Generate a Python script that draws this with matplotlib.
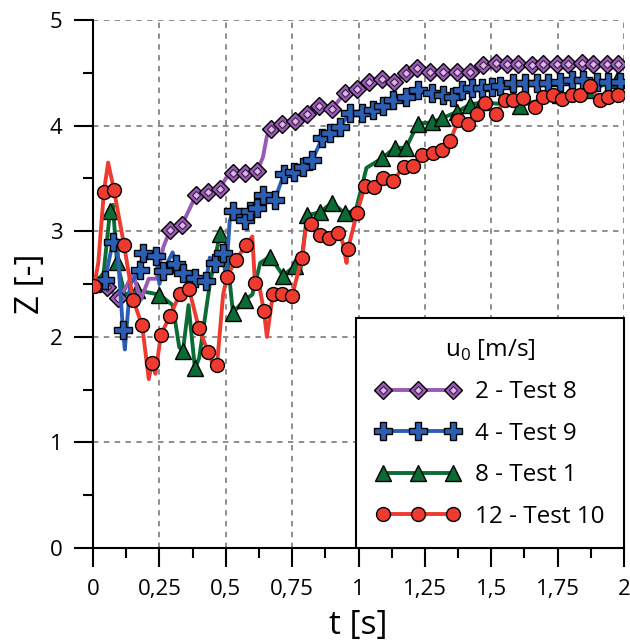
import matplotlib
matplotlib.use("Agg")
import matplotlib.pyplot as plt
from matplotlib.ticker import MultipleLocator
from matplotlib.lines import Line2D

plt.rcParams['font.family'] = ['Open Sans', 'DejaVu Sans']
plt.rcParams['mathtext.fontset'] = 'custom'
plt.rcParams['mathtext.rm'] = 'Open Sans'

# 2 - Test 8 (markers)
t_p = [0.053, 0.094, 0.290, 0.335, 0.388, 0.433, 0.478, 0.527, 0.572, 0.618, 0.670, 0.712, 0.761,
       0.806, 0.851, 0.900, 0.949, 0.994, 1.040, 1.088, 1.134, 1.179, 1.220, 1.269, 1.318, 1.371,
       1.420, 1.469, 1.518, 1.559, 1.601, 1.653, 1.695, 1.748, 1.789, 1.842, 1.883, 1.936, 1.977]
z_p = [2.47, 2.37, 3.01, 3.06, 3.34, 3.37, 3.40, 3.55, 3.55, 3.57, 3.97, 4.02, 4.04,
       4.11, 4.19, 4.16, 4.31, 4.35, 4.41, 4.44, 4.41, 4.50, 4.55, 4.51, 4.51, 4.51,
       4.51, 4.57, 4.59, 4.58, 4.58, 4.57, 4.58, 4.58, 4.58, 4.59, 4.58, 4.58, 4.58]
# extra line points between the markers
t_p2 = [0.0, 0.03, 0.12, 0.15, 0.18, 0.21, 0.24, 0.265, 0.50, 0.64, 0.655]
z_p2 = [2.50, 2.55, 2.45, 2.60, 2.35, 2.55, 2.55, 2.85, 3.50, 3.70, 3.90]

# 4 - Test 9
t_b = [0.045, 0.075, 0.113, 0.177, 0.188, 0.237, 0.264, 0.313, 0.339, 0.384, 0.426, 0.460, 0.490,
       0.527, 0.572, 0.591, 0.618, 0.640, 0.685, 0.719, 0.757, 0.791, 0.825, 0.863, 0.893, 0.930,
       0.968, 1.013, 1.055, 1.092, 1.130, 1.179, 1.224, 1.277, 1.318, 1.356, 1.390, 1.427, 1.465,
       1.503, 1.533, 1.582, 1.627, 1.672, 1.714, 1.759, 1.804, 1.846, 1.898, 1.940, 1.985]
z_b = [2.54, 2.90, 2.06, 2.63, 2.79, 2.77, 2.62, 2.69, 2.60, 2.56, 2.53, 2.70, 2.79,
       3.19, 3.11, 3.19, 3.22, 3.34, 3.30, 3.54, 3.56, 3.61, 3.67, 3.88, 3.93, 3.99,
       4.12, 4.12, 4.15, 4.19, 4.24, 4.27, 4.34, 4.31, 4.29, 4.27, 4.34, 4.36, 4.36,
       4.37, 4.38, 4.40, 4.40, 4.40, 4.40, 4.41, 4.43, 4.43, 4.41, 4.41, 4.41]
t_b2 = [0.0, 0.02, 0.09, 0.12, 0.14, 0.21, 0.25, 0.30, 0.37, 0.44, 0.50, 0.515]
z_b2 = [2.50, 2.50, 2.92, 1.88, 2.50, 2.75, 2.50, 2.80, 2.50, 2.75, 2.55, 3.10]

# 8 - Test 1
t_g = [0.0, 0.064, 0.090, 0.166, 0.250, 0.339, 0.384, 0.478, 0.527, 0.572, 0.667, 0.716, 0.761,
       0.806, 0.855, 0.900, 0.949, 1.088, 1.137, 1.179, 1.224, 1.277, 1.314, 1.371, 1.420, 1.465,
       1.608, 1.759, 1.872, 1.974]
z_g = [2.50, 3.19, 2.71, 2.44, 2.40, 1.87, 1.70, 2.97, 2.23, 2.35, 2.76, 2.58, 2.67,
       3.15, 3.18, 3.27, 3.17, 3.69, 3.79, 3.79, 4.02, 4.03, 4.07, 4.13, 4.20, 4.22,
       4.19, 4.29, 4.34, 4.43]
t_g2 = [0.04, 0.075, 0.12, 0.30, 0.325, 0.36, 0.40, 0.44, 0.50, 0.60, 0.63, 0.78, 0.99, 1.03]
z_g2 = [2.60, 3.25, 2.40, 2.30, 1.90, 2.30, 1.80, 2.50, 2.90, 2.40, 2.70, 2.60, 3.20, 3.60]

# 12 - Test 10
t_r = [0.004, 0.041, 0.079, 0.117, 0.151, 0.185, 0.222, 0.256, 0.290, 0.328, 0.362, 0.399, 0.433,
       0.467, 0.505, 0.539, 0.576, 0.610, 0.644, 0.678, 0.712, 0.750, 0.787, 0.821, 0.855, 0.889,
       0.923, 0.960, 0.994, 1.024, 1.058, 1.092, 1.130, 1.171, 1.205, 1.239, 1.281, 1.314, 1.345,
       1.375, 1.412, 1.446, 1.476, 1.518, 1.552, 1.582, 1.620, 1.665, 1.695, 1.733, 1.766, 1.804,
       1.834, 1.872, 1.910, 1.940, 1.977]
z_r = [2.48, 3.37, 3.39, 2.87, 2.35, 2.11, 1.75, 2.02, 2.20, 2.41, 2.45, 2.08, 1.86,
       1.73, 2.57, 2.73, 2.87, 2.51, 2.24, 2.41, 2.41, 2.39, 2.75, 3.07, 2.96, 2.94,
       2.98, 2.83, 3.17, 3.43, 3.42, 3.50, 3.48, 3.61, 3.62, 3.72, 3.74, 3.77, 3.85,
       4.05, 4.02, 4.11, 4.21, 4.11, 4.24, 4.24, 4.26, 4.18, 4.27, 4.29, 4.25, 4.29,
       4.29, 4.38, 4.24, 4.27, 4.29]
t_r2 = [0.02, 0.057, 0.10, 0.21, 0.235, 0.45, 0.49, 0.60, 0.625, 0.655, 0.80, 0.94, 0.955]
z_r2 = [2.70, 3.65, 3.10, 1.60, 1.65, 1.75, 2.40, 2.95, 2.50, 2.00, 3.00, 2.90, 2.70]

x_ticks = [0, 0.25, 0.5, 0.75, 1, 1.25, 1.5, 1.75, 2]
x_labels = ['0', '0,25', '0,5', '0,75', '1', '1,25', '1,5', '1,75', '2']


def merge(t1, z1, t2, z2):
    pts = sorted(zip(t1 + t2, z1 + z2))
    return [p[0] for p in pts], [p[1] for p in pts]


fig = plt.figure(figsize=(6.3, 6.42), dpi=100)
ax = fig.add_axes([0.1476, 0.1464, 0.8429, 0.8224])

c_p, c_b, c_g, c_r = '#9b59b6', '#2b5fb4', '#0b6b35', '#ee3a2f'
lw = 2.8

tl, zl = merge(t_g, z_g, t_g2, z_g2)
ax.plot(tl, zl, color=c_g, lw=lw, zorder=2)
ax.plot(t_g, z_g, marker='^', ms=11, mfc=c_g, mec='black', mew=1, ls='none', zorder=2.1)

tl, zl = merge(t_p, z_p, t_p2, z_p2)
ax.plot(tl, zl, color=c_p, lw=lw, zorder=3)
ax.plot(t_p, z_p, marker='D', ms=9.5, mfc=c_p, mec='black', mew=1, ls='none', zorder=3.1)
ax.plot(t_p, z_p, marker='D', ms=4.5, mfc='#d9b8e6', mec='#3b1d4a', mew=0.8, ls='none', zorder=3.2)

tl, zl = merge(t_b, z_b, t_b2, z_b2)
ax.plot(tl, zl, color=c_b, lw=lw, zorder=4)
ax.plot(t_b, z_b, marker='P', ms=13, mfc=c_b, mec='black', mew=1, ls='none', zorder=4.1)

tl, zl = merge(t_r, z_r, t_r2, z_r2)
ax.plot(tl, zl, color=c_r, lw=lw, zorder=5)
ax.plot(t_r, z_r, marker='o', ms=10, mfc=c_r, mec='black', mew=1, ls='none', zorder=5.1)

# legend handles: line + markers
lg_p = Line2D([], [], color=c_p, lw=lw, marker='D', ms=9.5, mfc=c_p, mec='black', mew=1)
lg_p2 = Line2D([], [], ls='none', marker='D', ms=4.5, mfc='#d9b8e6', mec='#3b1d4a', mew=0.8)
lg_b = Line2D([], [], color=c_b, lw=lw, marker='P', ms=13, mfc=c_b, mec='black', mew=1)
lg_g = Line2D([], [], color=c_g, lw=lw, marker='^', ms=11, mfc=c_g, mec='black', mew=1)
lg_r = Line2D([], [], color=c_r, lw=lw, marker='o', ms=10, mfc=c_r, mec='black', mew=1)

leg = ax.legend([(lg_p, lg_p2), lg_b, lg_g, lg_r],
                ['2 - Test 8', '4 - Test 9', '8 - Test 1', '12 - Test 10'],
                title='u$_\\mathrm{0}$ [m/s]', title_fontsize=17.5, fontsize=17.5,
                numpoints=3, handlelength=3.5, handletextpad=0.6, labelspacing=0.72,
                borderpad=0.8, loc='lower right', bbox_to_anchor=(1.0, 0.0), fancybox=False,
                framealpha=1, edgecolor='black', borderaxespad=0)
leg.get_frame().set_linewidth(1.5)
leg.set_zorder(10)

ax.set_xlim(0, 2)
ax.set_ylim(0, 5)
ax.set_xticks(x_ticks)
ax.set_xticklabels(x_labels)
ax.set_yticks([0, 1, 2, 3, 4, 5])
ax.xaxis.set_minor_locator(MultipleLocator(0.125))
ax.yaxis.set_minor_locator(MultipleLocator(0.5))
ax.tick_params(which='major', direction='out', length=14, width=1.5, labelsize=16, pad=8)
ax.tick_params(which='minor', direction='out', length=7, width=1.5)

ax.grid(True, which='major', color='#858585', ls=(0, (3, 3)), lw=1.3)
ax.set_axisbelow(True)
for s in ['top', 'right']:
    ax.spines[s].set_visible(False)
for s in ['left', 'bottom']:
    ax.spines[s].set_linewidth(1.5)

ax.set_xlabel('t [s]', fontsize=24, labelpad=7)
ax.set_ylabel('Z [-]', fontsize=24, labelpad=2)

plt.savefig('out.png', dpi=100)
